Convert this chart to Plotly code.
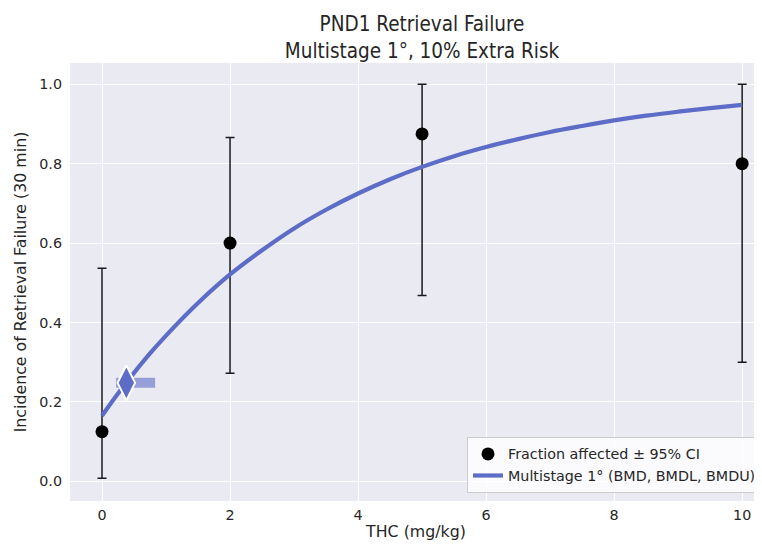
import plotly.graph_objects as go

# Observed data
dose = [0, 2, 5, 10]
fraction = [0.125, 0.600, 0.875, 0.800]
ci_low = [0.008, 0.272, 0.468, 0.300]
ci_high = [0.537, 0.866, 1.000, 1.000]

# Model curve
curve_dose = [0, 0.25, 0.5, 0.75, 1, 1.5, 2, 2.5, 3, 3.5, 4, 4.5, 5, 5.5, 6, 6.5, 7, 7.5, 8, 8.5, 9, 9.5, 10]
curve_resp = [0.165, 0.221, 0.273, 0.322, 0.367, 0.449, 0.521, 0.582, 0.637, 0.684, 0.725, 0.761,
              0.792, 0.819, 0.842, 0.862, 0.880, 0.895, 0.909, 0.921, 0.931, 0.940, 0.948]

# Benchmark dose values
bmd = 0.38
bmdl = 0.22
bmdu = 0.83
bmr_resp = 0.248

line_color = "#5D6CC6"
font_fam = "DejaVu Sans"
txt = "#262626"
fs = 14.3
fs_title_axis = 15.8

fig = go.Figure()

fig.add_trace(go.Scatter(
    x=dose, y=fraction, mode="markers",
    marker=dict(color="black", size=13),
    error_y=dict(type="data", symmetric=False,
                 array=[h - f for h, f in zip(ci_high, fraction)],
                 arrayminus=[f - l for f, l in zip(fraction, ci_low)],
                 color="#1a1a1a", thickness=1.5, width=4.5),
    name="Fraction affected \u00b1 95% CI",
))

fig.add_trace(go.Scatter(
    x=curve_dose, y=curve_resp, mode="lines",
    line=dict(color=line_color, width=4.2, shape="spline"),
    name="Multistage 1\u00b0 (BMD, BMDL, BMDU)",
))

fig.add_trace(go.Scatter(
    x=[bmdl, bmdu], y=[bmr_resp, bmr_resp], mode="lines",
    line=dict(color="rgba(93,108,198,0.6)", width=10),
    showlegend=False, hoverinfo="skip",
))

fig.add_trace(go.Scatter(
    x=[bmd], y=[bmr_resp], mode="markers",
    marker=dict(symbol="diamond-tall", size=25, color=line_color,
                line=dict(color="white", width=2)),
    showlegend=False,
))

axis_common = dict(
    showgrid=True, gridcolor="white", gridwidth=1.2, zeroline=False,
    showline=False, ticks="",
    tickfont=dict(family=font_fam, size=fs, color=txt),
)

fig.update_layout(
    width=754, height=537,
    margin=dict(l=62, r=0, t=55, b=44),
    paper_bgcolor="white", plot_bgcolor="#EAEAF2",
    font=dict(family=font_fam, size=fs, color=txt),
    title=dict(
        text="PND1 Retrieval Failure<br>Multistage 1\u00b0, 10% Extra Risk",
        x=0.5087, xref="paper", xanchor="center",
        y=0.957, yref="container", yanchor="top",
        font=dict(family="DejaVu Sans Condensed, DejaVu Sans", size=20.5, color=txt),
    ),
    xaxis=dict(range=[-0.5, 10.31], tickvals=[0, 2, 4, 6, 8, 10], ticklabelstandoff=4,
               title=dict(text="THC (mg/kg)", standoff=3,
                          font=dict(family=font_fam, size=fs_title_axis, color=txt)),
               **axis_common),
    yaxis=dict(range=[-0.0496, 1.0537], tickvals=[0, 0.2, 0.4, 0.6, 0.8, 1.0],
               tickformat=".1f", ticklabelstandoff=7,
               title=dict(text="Incidence of Retrieval Failure (30 min)", standoff=8,
                          font=dict(family=font_fam, size=fs_title_axis, color=txt)),
               **axis_common),
    legend=dict(x=1, xanchor="right", y=0.018, yanchor="bottom",
                bgcolor="rgba(255,255,255,0.8)", bordercolor="#CCCCCC", borderwidth=1,
                font=dict(family=font_fam, size=fs, color=txt),
                tracegroupgap=0, itemwidth=30),
    showlegend=True,
)

fig.write_html("out.html")
